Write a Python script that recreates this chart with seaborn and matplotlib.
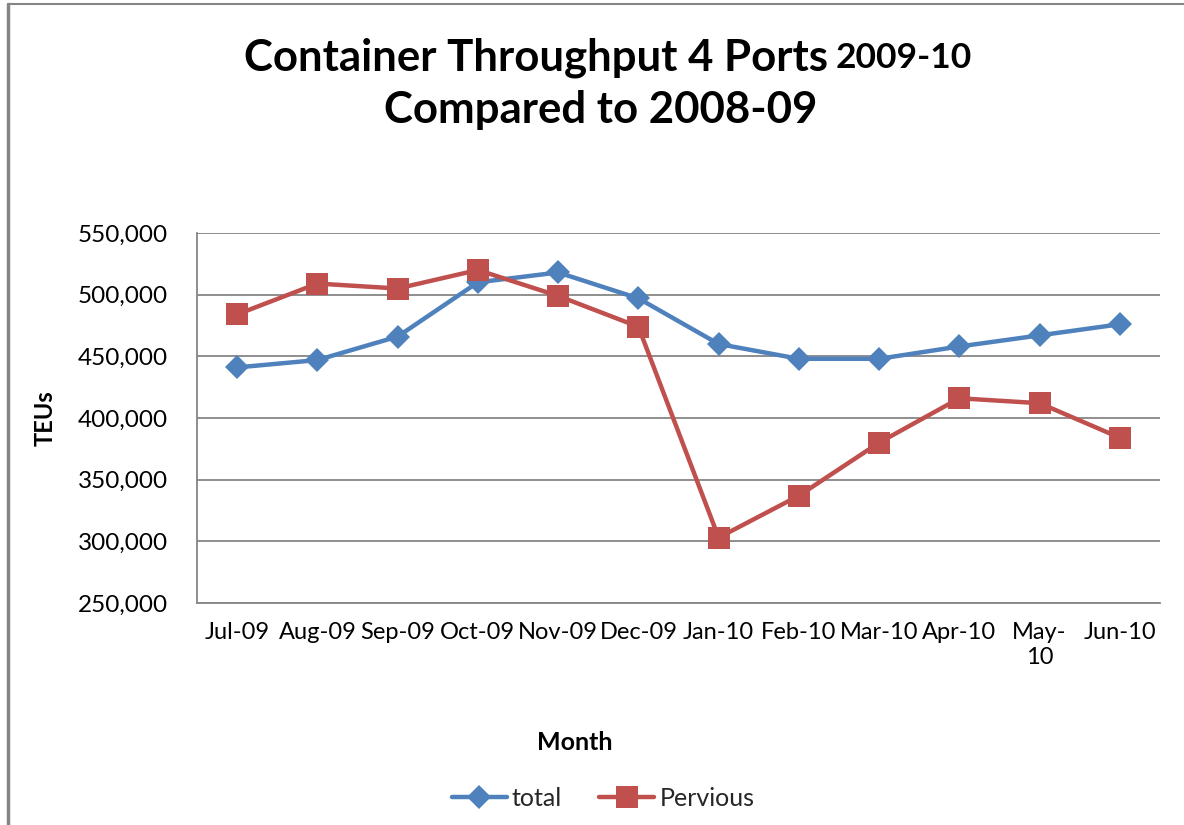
import matplotlib
matplotlib.use("Agg")
import matplotlib.pyplot as plt
import matplotlib.ticker as mticker
import seaborn as sns
import pandas as pd

months = ["Jul-09", "Aug-09", "Sep-09", "Oct-09", "Nov-09", "Dec-09",
          "Jan-10", "Feb-10", "Mar-10", "Apr-10", "May-10", "Jun-10"]
tick_labels = ["Jul-09", "Aug-09", "Sep-09", "Oct-09", "Nov-09", "Dec-09",
               "Jan-10", "Feb-10", "Mar-10", "Apr-10", "May-\n10", "Jun-10"]
total = [441000, 447000, 466000, 510000, 518000, 497000,
         460000, 448000, 448000, 458000, 467000, 476000]
pervious = [484000, 509000, 505000, 520000, 499000, 474000,
            303000, 337000, 380000, 416000, 412000, 384000]
y_ticks = [250000, 300000, 350000, 400000, 450000, 500000, 550000]

sns.set_theme(style="white")
plt.rcParams["font.family"] = ["Lato", "DejaVu Sans"]

df = pd.DataFrame({
    "idx": list(range(len(months))) * 2,
    "Month": months * 2,
    "TEUs": total + pervious,
    "series": ["total"] * len(months) + ["Pervious"] * len(months),
})

fig = plt.figure(figsize=(11.84, 8.25), dpi=100)
ax = fig.add_axes([197 / 1184, 1 - 603 / 825, (1160 - 197) / 1184, (603 - 233) / 825])

palette = {"total": "#4F81BD", "Pervious": "#C0504D"}
markers = {"total": "D", "Pervious": "s"}
sizes_m = {"total": 12, "Pervious": 16}
for name in ["total", "Pervious"]:
    sub = df[df["series"] == name]
    sns.lineplot(data=sub, x="idx", y="TEUs", ax=ax, color=palette[name],
                 marker=markers[name], markersize=sizes_m[name], linewidth=3.2,
                 markeredgewidth=0, label=name, legend=False, zorder=3)

grid_c = "#868686"
ax.set_ylim(250000, 550000)
ax.set_yticks(y_ticks)
ax.yaxis.set_major_formatter(mticker.FuncFormatter(lambda v, p: f"{int(v):,}"))
ax.set_xlim(-0.5, len(months) - 0.5)
ax.set_xticks(range(len(months)))
ax.set_xticklabels(tick_labels)
ax.set_xticks([i - 0.5 for i in range(len(months) + 1)], minor=True)
ax.tick_params(axis="x", which="major", length=0, pad=14, labelsize=17, colors="black")
ax.tick_params(axis="x", which="minor", length=7, width=1.3, color=grid_c, direction="out")
ax.tick_params(axis="y", which="major", length=7, width=1.3, color=grid_c, direction="out",
               pad=14, labelsize=17.5, labelcolor="black")
ax.grid(axis="y", color=grid_c, linewidth=1.3)
ax.grid(axis="x", visible=False)
for s in ["top", "right"]:
    ax.spines[s].set_visible(False)
for s in ["left", "bottom"]:
    ax.spines[s].set_color(grid_c)
    ax.spines[s].set_linewidth(1.3)
for lbl in ax.get_xticklabels():
    lbl.set_linespacing(1.2)

ax.set_xlabel("")
ax.set_ylabel("")
fig.text(45 / 1184, 1 - 418 / 825, "TEUs", rotation=90, ha="center", va="center",
         fontsize=17, fontweight="bold", color="black")
fig.text(575 / 1184, 1 - 742 / 825, "Month", ha="center", va="center",
         fontsize=18, fontweight="bold", color="black")

# Title
fig.text(828 / 1184, 1 - 58 / 825, "Container Throughput 4 Ports", ha="right",
         va="center", fontsize=31.5, fontweight="bold", color="black")
fig.text(836 / 1184, 1 - 58 / 825, "2009-10", ha="left", va="center",
         fontsize=25.5, fontweight="bold", color="black")
fig.text(601 / 1184, 1 - 110 / 825, "Compared to 2008-09", ha="center", va="center",
         fontsize=31.5, fontweight="bold", color="black")

# Legend
handles, labels = ax.get_legend_handles_labels()
fig.legend(handles, labels, loc="center", bbox_to_anchor=(603 / 1184, 1 - 798 / 825),
           ncol=2, frameon=False, fontsize=18, handlelength=2.2, columnspacing=1.5,
           handletextpad=0.2)

# Border lines
fig.add_artist(plt.Line2D([8 / 1184, 8 / 1184], [0, 1 - 4 / 825], color=grid_c, linewidth=2.5,
                          transform=fig.transFigure))
fig.add_artist(plt.Line2D([8 / 1184, 1], [1 - 4 / 825, 1 - 4 / 825], color=grid_c, linewidth=1.5,
                          transform=fig.transFigure))

fig.savefig("out.png", dpi=100)
